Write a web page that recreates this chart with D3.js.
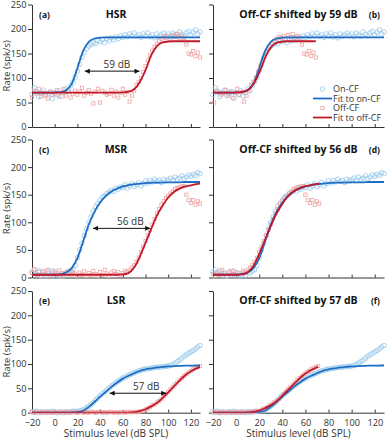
<!DOCTYPE html>
<html>
<head>
<meta charset="utf-8">
<script src="https://cdnjs.cloudflare.com/ajax/libs/d3/7.8.5/d3.min.js"></script>
<style>
  body { margin: 0; background: #fff; }
  svg { display: block; }
  text { font-family: "Open Sans", "Noto Sans", sans-serif; fill: #222; }
  .axis text { font-size: 9.2px; fill: #333; }
  .title { font-size: 10.5px; font-weight: bold; fill: #111; }
  .letter { font-size: 8.5px; font-weight: bold; fill: #111; }
  .alabel { font-size: 10px; fill: #333; }
  .ylabel { font-size: 9.5px; fill: #333; }
  .legend text { font-size: 9px; fill: #333; }
</style>
</head>
<body>
<svg id="svg_rate" width="389" height="440"></svg>
<script>

// stimulus levels of the measured points (dB SPL)
const levels = [
  -20, -18, -16, -14, -12, -10, -8, -6, -4, -2,
  0, 2, 4, 6, 8, 10, 12, 14, 16, 18,
  20, 22, 24, 26, 28, 30, 32, 34, 36, 38,
  40, 42, 44, 46, 48, 50, 52, 54, 56, 58,
  60, 62, 64, 66, 68, 70, 72, 74, 76, 78,
  80, 82, 84, 86, 88, 90, 92, 94, 96, 98,
  100, 102, 104, 106, 108, 110, 112, 114, 116, 118,
  120, 122, 124, 126, 128
];

// HSR rates (spk/s)
const onHSR = [
  66, 80, 72, 62, 70, 75, 64, 68, 72, 58,
  70, 66, 74, 63, 70, 78, 74, 84, 92, 102,
  114, 128, 142, 152, 160, 165, 168, 172, 170, 176,
  174, 178, 172, 180, 176, 182, 178, 184, 180, 186,
  183, 188, 184, 190, 186, 192, 185, 188, 183, 190,
  186, 192, 184, 188, 182, 190, 185, 188, 192, 186,
  190, 184, 192, 188, 185, 194, 189, 186, 192, 195,
  188, 193, 198, 190, 194
];
const offHSR = [
  60, 74, 68, 78, 62, 70, 66, 58, 72, 65,
  68, 75, 62, 70, 78, 64, 72, 60, 68, 74,
  66, 72, 80, 64, 70, 75, 68, 48, 72, 78,
  50, 74, 70, 66, 68, 76, 64, 72, 60, 70,
  78, 66, 72, 52, 64, 74, 86, 92, 100, 112,
  124, 136, 146, 156, 164, 170, 176, 180, 184, 182,
  186, 180, 188, 184, 190, 182, 186, 182, 168, 150,
  148, 155, 145, 152, 142
];

// MSR rates
const onMSR = [
  10, 14, 6, 12, 4, 8, 2, 10, 5, 12,
  3, 8, 2, 6, 4, 9, 8, 12, 14, 22,
  36, 50, 62, 76, 88, 100, 110, 120, 128, 134,
  140, 146, 148, 152, 155, 158, 156, 162, 160, 164,
  163, 168, 162, 166, 170, 165, 168, 172, 166, 170,
  175, 171, 176, 173, 178, 174, 176, 172, 178, 175,
  177, 180, 176, 182, 178, 180, 184, 179, 182, 186,
  183, 187, 185, 190, 188
];
const offMSR = [
  8, 15, 4, 10, 2, 12, 6, 14, 3, 9,
  11, 5, 13, 2, 8, 6, 12, 4, 10, 7,
  3, 9, 5, 11, 2, 8, 4, 12, 6, 3,
  10, 5, 14, 7, 3, 9, 12, 6, 10, 4,
  8, 12, 10, 14, 18, 22, 28, 36, 46, 56,
  66, 76, 86, 96, 106, 116, 124, 132, 138, 144,
  148, 152, 156, 160, 162, 164, 165, 166, 150, 140,
  135, 140, 132, 138, 134
];

// LSR rates
const onLSR = [
  2, 1, 3, 0, 2, 1, 0, 2, 1, 3,
  1, 0, 2, 1, 0, 2, 1, 2, 3, 3,
  2, 4, 5, 7, 10, 13, 17, 21, 26, 30,
  35, 39, 43, 47, 51, 55, 58, 62, 65, 68,
  71, 73, 76, 78, 80, 82, 84, 86, 87, 89,
  90, 90, 91, 92, 93, 93, 94, 94, 95, 95,
  96, 97, 99, 102, 105, 108, 112, 116, 119, 122,
  125, 128, 131, 135, 138
];
const offLSR = [
  1, 0, 2, 1, 0, 1, 2, 0, 1, 0,
  2, 1, 0, 1, 2, 0, 1, 0, 2, 1,
  0, 1, 2, 0, 1, 0, 2, 1, 0, 1,
  2, 0, 1, 0, 1, 2, 0, 1, 0, 1,
  1, 0, 2, 1, 1, 2, 1, 2, 3, 4,
  7, 9, 11, 15, 17, 21, 24, 28, 33, 38,
  43, 48, 53, 58, 62, 67, 71, 75, 79, 83,
  86, 89, 92, 94, 96
];

// fitted curves, read at these levels
const fitLevels = [-20, -15, -10, -5, 0, 5, 10, 15, 20, 25, 30, 35, 40, 45, 50, 55,
  60, 65, 70, 75, 80, 85, 90, 95, 100, 105, 110, 115, 120, 125, 128];

const fitOnHSR = [70, 70, 70, 70, 70.5, 71, 75, 88, 120, 155, 174, 180.5, 182.5, 183, 183, 183,
  183, 183, 183, 183, 183, 183, 183, 183, 183, 183, 183, 183, 183, 183, 183];
const fitOffHSR = [70, 70, 70, 70, 70, 70, 70, 70, 70, 70, 70, 70, 70, 70, 70, 70,
  70.5, 72, 77, 92, 116, 146, 165, 172.5, 174.5, 175, 175, 175, 175, 175, 175];

const fitOnMSR = [5, 5, 5, 5, 5, 6, 9, 17, 35, 65, 96, 119, 136, 148, 156, 161,
  165, 167.5, 169, 170, 171, 171.5, 172, 172, 172.5, 172.5, 172.5, 173, 173, 173, 173];
const fitOffMSR = [5, 5, 5, 5, 5, 5, 5, 5, 5, 5, 5, 5, 5, 5, 5, 5,
  5.5, 8, 18, 38, 63, 88, 112, 130, 145, 155, 161, 165, 167, 169, 170];

const fitOnLSR = [0, 0, 0, 0, 0, 0, 0, 0.3, 1, 4, 12, 22, 33, 43, 53, 62,
  70, 76, 81, 86, 89, 91, 93, 94, 95, 95.5, 96, 96.5, 96.5, 97, 97];
const fitOffLSR = [0, 0, 0, 0, 0, 0, 0, 0, 0, 0, 0, 0, 0, 0, 0, 0,
  0, 0.3, 1, 3, 7, 13, 20, 30, 42, 54, 66, 77, 85, 91, 94];

const rowNames = ['HSR', 'MSR', 'LSR'];
const shifts = [59, 56, 57];
const letters = [['(a)', '(b)'], ['(c)', '(d)'], ['(e)', '(f)']];

const xTicks = [-20, 0, 20, 40, 60, 80, 100, 120];
const yTicks = [0, 50, 100, 150, 200, 250];

// double arrow between the two fits (dB), its rate, and where its label sits (dB)
const arrowFrom = [26.5, 33.8, 48.4];
const arrowTo = [74.7, 84.1, 98.2];
const arrowRate = [114, 89, 40];
const arrowText = [54.8, 66.6, 80.6];

const legendLabels = ['On-CF', 'Fit to on-CF', 'Off-CF', 'Fit to off-CF'];


function chartRate(_svg) {

  // variables
  const svg = d3.select(`#svg_${_svg}`);

  const colX = [[32, 200], [213, 384]];
  const rowY = [[4.5, 127], [139.5, 277.5], [291, 412.7]];
  const xDomain = [-20, 128];
  const yDomain = [0, 250];

  const c_on = '#93c6ea',
    c_off = '#f0a3a3',
    c_fitOn = '#1f6ec4',
    c_fitOff = '#c01a2c';

  const onCF = [onHSR, onMSR, onLSR];
  const offCF = [offHSR, offMSR, offLSR];
  const fitOn = [fitOnHSR, fitOnMSR, fitOnLSR];
  const fitOff = [fitOffHSR, fitOffMSR, fitOffLSR];

  const defs = svg.append('defs');

  // arrow head
  defs.append('marker')
    .attr('id', 'head')
    .attr('viewBox', '0 0 10 10')
    .attr('refX', 10)
    .attr('refY', 5)
    .attr('markerWidth', 6)
    .attr('markerHeight', 5)
    .attr('markerUnits', 'userSpaceOnUse')
    .attr('orient', 'auto-start-reverse')
    .append('path')
    .attr('d', 'M0,0L10,5L0,10z')
    .attr('fill', '#111');

  rowNames.forEach((name, i) => {
    [0, 1].forEach(side => {

      const shift = side ? shifts[i] : 0;
      const id = `p${i}${side}`;

      // scales
      const x = d3.scaleLinear().domain(xDomain).range(colX[side]);
      const y = d3.scaleLinear().domain(yDomain).range([rowY[i][1], rowY[i][0]]);

      const onPts = levels.map((l, j) => ({ l: l, v: onCF[i][j] }));
      const offPts = levels.map((l, j) => ({ l: l - shift, v: offCF[i][j] }))
        .filter(d => d.l >= -20);
      const fitOnPts = fitLevels.map((l, j) => ({ l: l, v: fitOn[i][j] }));
      const fitOffPts = fitLevels.map((l, j) => ({ l: l - shift, v: fitOff[i][j] }))
        .filter(d => d.l >= -30);

      let g = svg.selectAll(`#${id}`).data([null])
        .join('g')
        .attr('id', id);

      defs.append('clipPath')
        .attr('id', `clip_${id}`)
        .append('rect')
        .attr('x', x(-20))
        .attr('y', y(250))
        .attr('width', x(128) - x(-20))
        .attr('height', y(0) - y(250));

      // axes
      const xAxis = d3.axisBottom(x)
        .tickValues(xTicks)
        .tickSizeInner(-3)
        .tickSizeOuter(0)
        .tickPadding(7);
      if (i < 2) xAxis.tickFormat('');

      const yAxis = d3.axisLeft(y)
        .tickValues(yTicks)
        .tickSizeInner(4)
        .tickSizeOuter(0)
        .tickPadding(1.5);
      if (side) yAxis.tickFormat('');

      g.append('g')
        .attr('class', 'axis')
        .attr('color', '#333')
        .attr('transform', `translate(0,${y(0)})`)
        .call(xAxis);

      g.append('g')
        .attr('class', 'axis')
        .attr('color', '#333')
        .attr('transform', `translate(${x(-20)},0)`)
        .call(yAxis);

      g.selectAll('.axis').attr('font-family', null).attr('font-size', null);

      // data points
      g.selectAll('.onCF').data(onPts)
        .join('circle')
        .attr('class', 'onCF')
        .attr('cx', d => x(d.l))
        .attr('cy', d => y(d.v))
        .attr('r', 2.3)
        .attr('fill', 'none')
        .attr('stroke', c_on)
        .attr('stroke-width', 0.8);

      g.selectAll('.offCF').data(offPts)
        .join('rect')
        .attr('class', 'offCF')
        .attr('x', d => x(d.l) - 1.6)
        .attr('y', d => y(d.v) - 1.6)
        .attr('width', 3.2)
        .attr('height', 3.2)
        .attr('fill', 'none')
        .attr('stroke', c_off)
        .attr('stroke-width', 0.8);

      // fits
      const line = d3.line()
        .x(d => x(d.l))
        .y(d => y(d.v))
        .curve(d3.curveMonotoneX);

      g.append('path')
        .datum(fitOnPts)
        .attr('d', line)
        .attr('clip-path', `url(#clip_${id})`)
        .style('fill', 'none')
        .style('stroke', c_fitOn)
        .style('stroke-width', 1.8);

      g.append('path')
        .datum(fitOffPts)
        .attr('d', line)
        .attr('clip-path', `url(#clip_${id})`)
        .style('fill', 'none')
        .style('stroke', c_fitOff)
        .style('stroke-width', 1.8);

      // titles
      g.append('text')
        .attr('class', 'title')
        .attr('text-anchor', 'middle')
        .attr('x', (colX[side][0] + colX[side][1]) / 2)
        .attr('y', rowY[i][0] + 13)
        .text(side ? `Off-CF shifted by ${shifts[i]} dB` : name);

      g.append('text')
        .attr('class', 'letter')
        .attr('text-anchor', side ? 'end' : 'start')
        .attr('x', side ? colX[side][1] - 4 : colX[side][0] + 7)
        .attr('y', rowY[i][0] + 13)
        .text(letters[i][side]);

      if (side == 0) {
        // shift arrow
        g.append('line')
          .attr('x1', x(arrowFrom[i]))
          .attr('x2', x(arrowTo[i]))
          .attr('y1', y(arrowRate[i]))
          .attr('y2', y(arrowRate[i]))
          .attr('stroke', '#111')
          .attr('stroke-width', 1)
          .attr('marker-start', 'url(#head)')
          .attr('marker-end', 'url(#head)');

        g.append('text')
          .attr('class', 'alabel')
          .attr('text-anchor', 'middle')
          .attr('x', x(arrowText[i]))
          .attr('y', y(arrowRate[i]) - 3)
          .text(`${shifts[i]} dB`);

        // y label
        g.append('text')
          .attr('class', 'ylabel')
          .attr('text-anchor', 'middle')
          .attr('transform', `translate(9.5,${(rowY[i][0] + rowY[i][1]) / 2}) rotate(-90)`)
          .text('Rate (spk/s)');
      }

      if (i == 2) {
        g.append('text')
          .attr('class', 'alabel')
          .attr('text-anchor', 'middle')
          .attr('x', (colX[side][0] + colX[side][1]) / 2)
          .attr('y', 437)
          .text('Stimulus level (dB SPL)');
      }

      // legend
      if (i == 0 && side == 1) {
        let leg = g.append('g')
          .attr('class', 'legend')
          .attr('transform', 'translate(313,89)');

        let items = leg.selectAll('.item').data(legendLabels)
          .join('g')
          .attr('class', 'item')
          .attr('transform', (d, k) => `translate(0,${k * 9.5})`);

        items.filter((d, k) => k == 0).append('circle')
          .attr('cx', 9.5).attr('cy', 0).attr('r', 2.3)
          .attr('fill', 'none').attr('stroke', c_on).attr('stroke-width', 0.8);
        items.filter((d, k) => k == 2).append('rect')
          .attr('x', 8).attr('y', -1.6).attr('width', 3.2).attr('height', 3.2)
          .attr('fill', 'none').attr('stroke', c_off).attr('stroke-width', 0.8);
        items.filter((d, k) => k == 1 || k == 3).append('line')
          .attr('x1', 0).attr('x2', 19).attr('y1', 0).attr('y2', 0)
          .attr('stroke', d => d == 'Fit to on-CF' ? c_fitOn : c_fitOff)
          .attr('stroke-width', 1.8);

        items.append('text')
          .attr('x', 20)
          .attr('dy', '0.35em')
          .text(d => d);
      }
    });
  });
}

chartRate('rate');

</script>
</body>
</html>
